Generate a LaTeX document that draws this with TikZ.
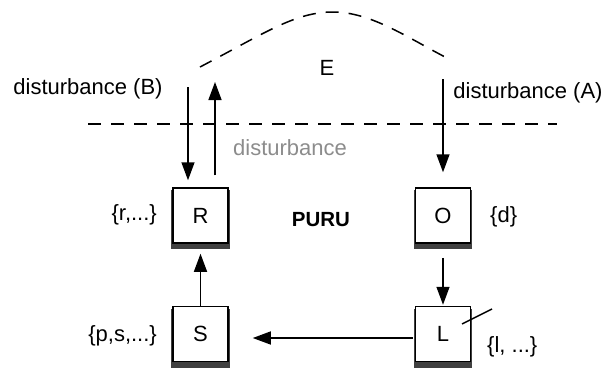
\documentclass[tikz,border=0pt]{standalone}
\usepackage{fontspec}
\setmainfont{Liberation Sans}
\usetikzlibrary{arrows.meta,shadows}

\tikzset{
  lbl/.style={inner sep=0pt, font=\fontsize{22}{26}\selectfont},
  unit/.style={draw=black, line width=1.5pt, fill=white, minimum width=55pt,
    minimum height=55pt, inner sep=0pt, font=\fontsize{22}{26}\selectfont,
    general shadow={fill=black!75, shadow scale=1.07, shadow yshift=-4pt}},
  flow/.style={line width=1.5pt, -{Triangle[length=18pt,width=13pt]}},
  bound/.style={line width=1.5pt, dash pattern=on 13pt off 10pt}
}

\begin{document}
\begin{tikzpicture}[x=1pt, y=-1pt]
\useasboundingbox (0,0) rectangle (606,370);

% environment boundary and the dashed system border
\draw[bound] (200,67) .. controls (265,33) and (295,12) .. (333,12)
             .. controls (370,12) and (405,36) .. (445,57);
\coordinate (bl) at (88,124);
\coordinate (br) at (557,124);
\draw[bound] (bl) -- (br);

% units
\node[unit] (R) at (200.5,215.5) {R};
\node[unit] (O) at (443,215.5) {O};
\node[unit] (S) at (200.5,334) {S};
\node[unit] (L) at (443,334) {L};

% labels
\node[lbl] (E) at (327,68) {E};
\node[lbl] (db) at (88,89) {disturbance (B)};
\node[lbl] (da) at (528,93) {disturbance (A)};
\node[lbl, anchor=west, text=black!45] (dg) at (233,148) {disturbance};
\node[lbl, font=\fontsize{20.5}{24}\selectfont\bfseries] (puru) at (321,220) {PURU};
\node[lbl, anchor=east] (rs) at (157,215) {\{r,...\}};
\node[lbl, anchor=east] (ps) at (157,336) {\{p,s,...\}};
\node[lbl, anchor=west] (ds) at (490,217) {\{d\}};
\node[lbl, anchor=west] (ls) at (487,347) {\{l, ...\}};

% disturbance arrows crossing the border
\coordinate (inB) at (188,87);
\coordinate (outB) at (215,82);
\coordinate (inA) at (443,79);
\draw[flow, shorten >=7pt] (inB) -- (inB |- R.north);
\draw[flow, shorten <=12pt] (outB |- R.north) -- (outB);
\draw[flow, shorten >=15pt] (inA) -- (O.north);

% internal flow
\draw[flow, shorten <=14pt, shorten >=1pt] (O.south) -- (L.north);
\draw[flow, shorten <=2pt, shorten >=24pt] ([yshift=-4pt]L.west) -- ([yshift=-4pt]L.west -| S.east);
\draw[flow, shorten >=10pt] (S.north) -- (R.south);

% tick on L
\coordinate (t1) at (462,324);
\coordinate (t2) at (492,309);
\draw[line width=1.4pt] (t1) -- (t2);
\end{tikzpicture}
\end{document}
